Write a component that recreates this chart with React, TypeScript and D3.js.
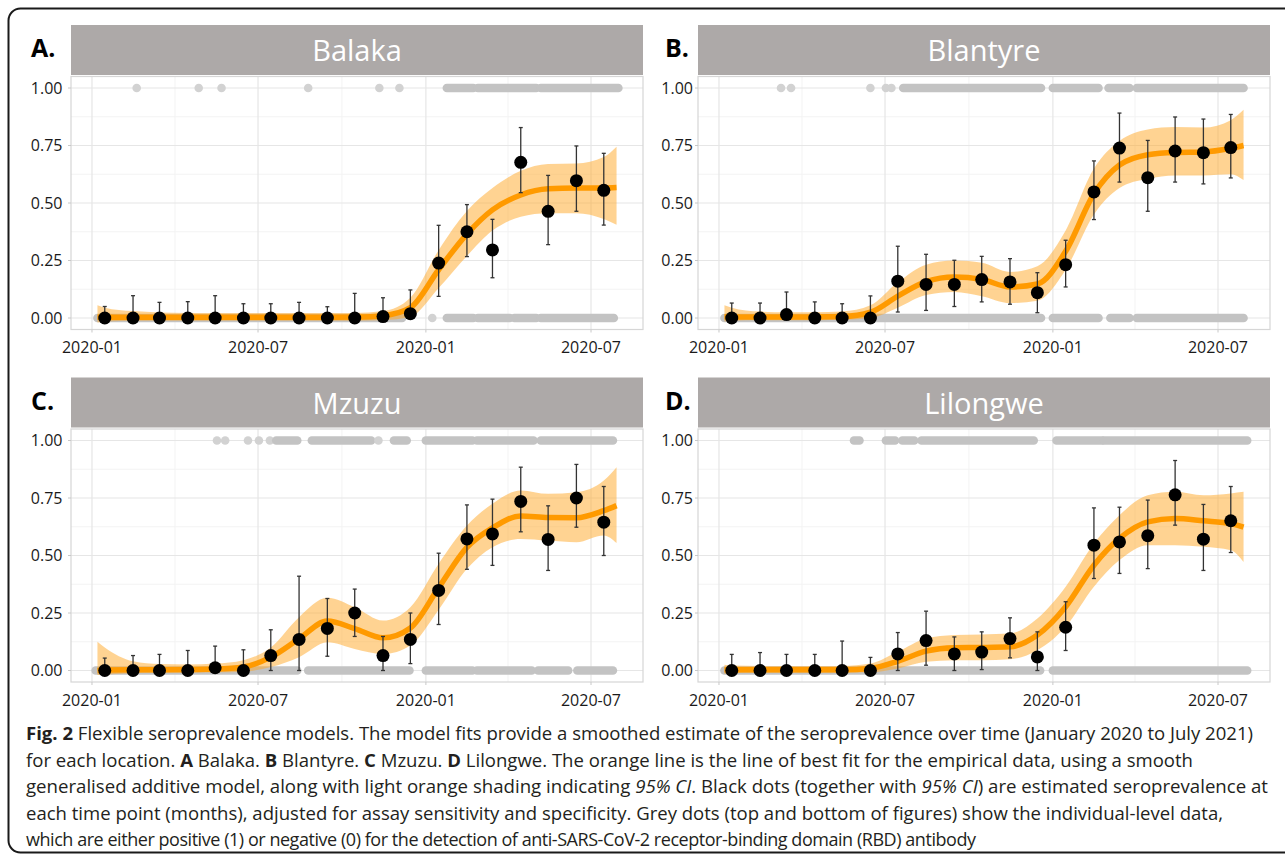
import React from 'react';
import * as d3 from 'd3';

// monthly survey points (mid-month), Jan 2020 - Jul 2021
const pointDates = [
  '2020-01-15', '2020-02-15', '2020-03-15', '2020-04-15', '2020-05-15', '2020-06-15',
  '2020-07-15', '2020-08-15', '2020-09-15', '2020-10-15', '2020-11-15', '2020-12-15',
  '2021-01-15', '2021-02-15', '2021-03-15', '2021-04-15', '2021-05-15', '2021-06-15', '2021-07-15',
];
// GAM fit is sampled at the first/last sample date plus every survey month
const fitDates = ['2020-01-07', ...pointDates, '2021-07-29'];

const xDomain = ['2019-12-09', '2021-08-27'];
const xBreaks = ['2020-01-01', '2020-07-01', '2021-01-01', '2021-07-01'];
const xTickLabels = ['2020-01', '2020-07', '2020-01', '2020-07'];
const xMinor = ['2020-04-01', '2020-10-01', '2021-04-01'];
const yBreaks = [0, 0.25, 0.5, 0.75, 1];
const yTickLabels = ['0.00', '0.25', '0.50', '0.75', '1.00'];
const yMinor = [0.125, 0.375, 0.625, 0.875];

const panelNames = ['Balaka', 'Blantyre', 'Mzuzu', 'Lilongwe'];
const panelTags = ['A.', 'B.', 'C.', 'D.'];

// ---- Balaka
const balakaEst = [0, 0, 0, 0, 0, 0, 0, 0, 0, 0, 0.006, 0.019, 0.239, 0.375, 0.296, 0.677, 0.464, 0.597, 0.555];
const balakaLo = [0, 0, 0, 0, 0, 0, 0, 0, 0, 0, 0, 0, 0.094, 0.267, 0.175, 0.545, 0.319, 0.464, 0.404];
const balakaHi = [0.05, 0.097, 0.068, 0.071, 0.097, 0.062, 0.062, 0.068, 0.049, 0.107, 0.088, 0.122, 0.403, 0.493, 0.429, 0.828, 0.62, 0.748, 0.716];
const balakaFit = [0.004, 0.003, 0.003, 0.003, 0.003, 0.003, 0.003, 0.003, 0.003, 0.003, 0.004, 0.01, 0.045, 0.21, 0.365, 0.47, 0.535, 0.562, 0.565, 0.565, 0.567];
const balakaFitLo = [-0.02, -0.015, -0.012, -0.012, -0.012, -0.012, -0.012, -0.012, -0.012, -0.012, -0.012, -0.01, 0.005, 0.13, 0.27, 0.38, 0.44, 0.455, 0.455, 0.43, 0.405];
const balakaFitHi = [0.055, 0.045, 0.03, 0.024, 0.022, 0.022, 0.022, 0.022, 0.022, 0.022, 0.022, 0.03, 0.088, 0.295, 0.465, 0.565, 0.64, 0.67, 0.672, 0.7, 0.745];
const balakaPos = [[49, 49], [117, 117], [142, 142], [237, 237], [315, 315], [337, 337], [389, 418], [423, 487], [492, 577]];
const balakaNeg = [[6, 340], [373, 373], [389, 418], [423, 458], [463, 487], [492, 572]];

// ---- Blantyre
const blantyreEst = [0, 0, 0.015, 0, 0, 0, 0.16, 0.146, 0.146, 0.167, 0.157, 0.11, 0.232, 0.548, 0.739, 0.61, 0.726, 0.719, 0.741];
const blantyreLo = [0, 0, 0, 0, 0, 0, 0.026, 0.033, 0.05, 0.07, 0.06, 0.023, 0.135, 0.428, 0.591, 0.464, 0.591, 0.583, 0.609];
const blantyreHi = [0.065, 0.065, 0.113, 0.07, 0.062, 0.096, 0.312, 0.277, 0.251, 0.268, 0.258, 0.197, 0.338, 0.683, 0.891, 0.772, 0.874, 0.865, 0.885];
const blantyreFit = [0.005, 0.004, 0.004, 0.004, 0.004, 0.006, 0.025, 0.095, 0.158, 0.178, 0.168, 0.135, 0.148, 0.29, 0.54, 0.665, 0.71, 0.72, 0.722, 0.738, 0.75];
const blantyreFitLo = [-0.015, -0.012, -0.01, -0.01, -0.01, -0.008, 0, 0.045, 0.1, 0.113, 0.095, 0.065, 0.075, 0.21, 0.45, 0.565, 0.605, 0.62, 0.62, 0.625, 0.6];
const blantyreFitHi = [0.055, 0.045, 0.028, 0.025, 0.025, 0.028, 0.055, 0.155, 0.232, 0.25, 0.24, 0.2, 0.225, 0.38, 0.65, 0.77, 0.82, 0.83, 0.828, 0.86, 0.905];
const blantyrePos = [[68, 68], [79, 79], [166, 166], [183, 183], [189, 189], [202, 353], [366, 416], [427, 450], [458, 575]];
const blantyreNeg = [[6, 353], [366, 416], [429, 450], [458, 575]];

// ---- Mzuzu
const mzuzuEst = [0, 0, 0, 0, 0.012, 0, 0.065, 0.135, 0.183, 0.25, 0.065, 0.135, 0.348, 0.572, 0.594, 0.735, 0.57, 0.75, 0.645];
const mzuzuLo = [0, 0, 0, 0, 0, 0, 0, 0, 0.062, 0.148, 0, 0.03, 0.2, 0.44, 0.457, 0.603, 0.435, 0.623, 0.5];
const mzuzuHi = [0.054, 0.065, 0.07, 0.087, 0.106, 0.09, 0.177, 0.41, 0.313, 0.354, 0.148, 0.25, 0.51, 0.72, 0.745, 0.884, 0.716, 0.896, 0.8];
const mzuzuFit = [0, 0.002, 0.003, 0.003, 0.004, 0.006, 0.015, 0.058, 0.138, 0.215, 0.182, 0.142, 0.185, 0.36, 0.535, 0.62, 0.672, 0.665, 0.664, 0.695, 0.717];
const mzuzuFitLo = [-0.02, -0.018, -0.012, -0.01, -0.01, -0.008, -0.005, 0.015, 0.058, 0.123, 0.094, 0.072, 0.109, 0.264, 0.442, 0.536, 0.572, 0.565, 0.558, 0.587, 0.554];
const mzuzuFitHi = [0.125, 0.1, 0.04, 0.028, 0.026, 0.03, 0.045, 0.1, 0.232, 0.316, 0.275, 0.217, 0.275, 0.464, 0.63, 0.725, 0.783, 0.768, 0.775, 0.826, 0.884];
const mzuzuPos = [[137, 137], [146, 146], [171, 171], [183, 183], [195, 195], [202, 225], [241, 306], [314, 314], [331, 345], [366, 417], [422, 484], [492, 571]];
const mzuzuNeg = [[4, 225], [237, 348], [366, 417], [422, 482], [489, 522], [532, 571]];

// ---- Lilongwe
const lilongweEst = [0, 0, 0, 0, 0, 0, 0.072, 0.13, 0.072, 0.08, 0.139, 0.059, 0.188, 0.545, 0.559, 0.586, 0.764, 0.571, 0.651];
const lilongweLo = [0, 0, 0, 0, 0, 0, 0, 0.023, 0, 0.004, 0.055, 0, 0.087, 0.4, 0.422, 0.443, 0.632, 0.435, 0.513];
const lilongweHi = [0.07, 0.078, 0.07, 0.07, 0.128, 0.057, 0.165, 0.258, 0.146, 0.168, 0.229, 0.168, 0.299, 0.707, 0.71, 0.741, 0.913, 0.722, 0.8];
const lilongweFit = [0.003, 0.003, 0.003, 0.003, 0.003, 0.003, 0.009, 0.04, 0.084, 0.099, 0.1, 0.103, 0.154, 0.277, 0.458, 0.574, 0.646, 0.661, 0.651, 0.639, 0.623];
const lilongweFitLo = [-0.015, -0.012, -0.01, -0.01, -0.01, -0.01, -0.008, 0.009, 0.038, 0.045, 0.045, 0.049, 0.088, 0.19, 0.364, 0.48, 0.545, 0.545, 0.538, 0.523, 0.472];
const lilongweFitHi = [0.025, 0.022, 0.02, 0.02, 0.02, 0.02, 0.03, 0.081, 0.139, 0.154, 0.157, 0.161, 0.226, 0.364, 0.552, 0.675, 0.762, 0.777, 0.762, 0.77, 0.777];
const lilongwePos = [[148, 154], [183, 193], [201, 214], [222, 345], [370, 420], [422, 579]];
const lilongweNeg = [[6, 352], [366, 579]];

const panels = [
  { est: balakaEst, lo: balakaLo, hi: balakaHi, fit: balakaFit, fitLo: balakaFitLo, fitHi: balakaFitHi, pos: balakaPos, neg: balakaNeg },
  { est: blantyreEst, lo: blantyreLo, hi: blantyreHi, fit: blantyreFit, fitLo: blantyreFitLo, fitHi: blantyreFitHi, pos: blantyrePos, neg: blantyreNeg },
  { est: mzuzuEst, lo: mzuzuLo, hi: mzuzuHi, fit: mzuzuFit, fitLo: mzuzuFitLo, fitHi: mzuzuFitHi, pos: mzuzuPos, neg: mzuzuNeg },
  { est: lilongweEst, lo: lilongweLo, hi: lilongweHi, fit: lilongweFit, fitLo: lilongweFitLo, fitHi: lilongweFitHi, pos: lilongwePos, neg: lilongweNeg },
];

const parse = d3.timeParse('%Y-%m-%d');
const day0 = parse('2020-01-01');
const dayDate = (d) => d3.timeDay.offset(day0, d);

const FONT = "'Open Sans', 'Noto Sans', sans-serif";
const colLeft = [71, 698];
const labelRight = [62.5, 693];
const tagX = [31, 665];
const rowTop = [25, 377.5];
const panelW = 572;

const Panel = ({ i }) => {
  const p = panels[i];
  const col = i % 2;
  const row = Math.floor(i / 2);
  const left = colLeft[col];
  const right = left + panelW;
  const stripTop = rowTop[row];
  const plotTop = stripTop + 51.5;
  const plotBottom = plotTop + 253;

  const x = d3.scaleTime().domain(xDomain.map(parse)).range([left, right]);
  const y = d3.scaleLinear().domain([-0.05, 1.05]).range([plotBottom, plotTop]);

  const fitRows = fitDates.map((d, k) => ({ date: parse(d), v: p.fit[k], lo: p.fitLo[k], hi: p.fitHi[k] }));
  const area = d3.area()
    .x((d) => x(d.date))
    .y0((d) => y(d.lo))
    .y1((d) => y(d.hi))
    .curve(d3.curveMonotoneX);
  const line = d3.line()
    .x((d) => x(d.date))
    .y((d) => y(d.v))
    .curve(d3.curveMonotoneX);

  const greyRuns = (runs, level, key) => runs.map((r, k) => (
    <line
      key={key + k}
      x1={x(dayDate(r[0]))}
      x2={x(dayDate(r[1]))}
      y1={y(level)}
      y2={y(level)}
      stroke={r[0] === r[1] ? '#d2d2d2' : '#c3c3c3'}
      strokeWidth={8.6}
      strokeLinecap="round"
    />
  ));

  return (
    <g>
      {/* strip */}
      <rect x={left} y={stripTop} width={panelW} height={50} fill="#ada9a8" />
      <text x={(left + right) / 2} y={stripTop + 36} textAnchor="middle" fill="#fff" fontFamily={FONT} fontSize={29}>
        {panelNames[i]}
      </text>
      <text x={tagX[col]} y={stripTop + 32} fill="#000" fontFamily={FONT} fontWeight="bold" fontSize={25}>
        {panelTags[i]}
      </text>

      {/* panel */}
      <rect x={left} y={plotTop} width={panelW} height={plotBottom - plotTop} fill="#fff" />
      {yMinor.map((v) => (
        <line key={'ym' + v} x1={left} x2={right} y1={y(v)} y2={y(v)} stroke="#f3f3f3" strokeWidth={1} />
      ))}
      {xMinor.map((d) => (
        <line key={'xm' + d} x1={x(parse(d))} x2={x(parse(d))} y1={plotTop} y2={plotBottom} stroke="#f3f3f3" strokeWidth={1} />
      ))}
      {yBreaks.map((v) => (
        <line key={'y' + v} x1={left} x2={right} y1={y(v)} y2={y(v)} stroke="#e6e6e6" strokeWidth={1.2} />
      ))}
      {xBreaks.map((d) => (
        <line key={'x' + d} x1={x(parse(d))} x2={x(parse(d))} y1={plotTop} y2={plotBottom} stroke="#e6e6e6" strokeWidth={1.2} />
      ))}
      <rect x={left} y={plotTop} width={panelW} height={plotBottom - plotTop} fill="none" stroke="#d6d6d6" strokeWidth={1.2} />

      {/* ticks + labels */}
      {yBreaks.map((v, k) => (
        <g key={'yt' + v}>
          <line x1={left - 3} x2={left} y1={y(v)} y2={y(v)} stroke="#c8c8c8" />
          <text x={labelRight[col]} y={y(v) + 5.7} textAnchor="end" fontFamily={FONT} fontSize={16} fill="#1a1a1a">
            {yTickLabels[k]}
          </text>
        </g>
      ))}
      {xBreaks.map((d, k) => (
        <g key={'xt' + d}>
          <line x1={x(parse(d))} x2={x(parse(d))} y1={plotBottom} y2={plotBottom + 3} stroke="#c8c8c8" />
          <text x={x(parse(d))} y={plotBottom + 23.5} textAnchor="middle" fontFamily={FONT} fontSize={16} fill="#1a1a1a">
            {xTickLabels[k]}
          </text>
        </g>
      ))}

      {/* individual-level data */}
      {greyRuns(p.pos, 1, 'p')}
      {greyRuns(p.neg, 0, 'n')}

      {/* GAM fit */}
      <path d={area(fitRows)} fill="#ffa726" fillOpacity={0.5} />
      <path d={line(fitRows)} fill="none" stroke="#ff9a00" strokeWidth={5.5} />

      {/* monthly estimates */}
      {pointDates.map((d, k) => {
        const cx = x(parse(d));
        return (
          <g key={'pt' + d}>
            <line x1={cx} x2={cx} y1={y(p.lo[k])} y2={y(p.hi[k])} stroke="#333" strokeWidth={1.3} />
            <line x1={cx - 2} x2={cx + 2} y1={y(p.hi[k])} y2={y(p.hi[k])} stroke="#333" strokeWidth={1.3} />
            <line x1={cx - 2} x2={cx + 2} y1={y(p.lo[k])} y2={y(p.lo[k])} stroke="#333" strokeWidth={1.3} />
            <circle cx={cx} cy={y(p.est[k])} r={6.5} fill="#000" />
          </g>
        );
      })}
    </g>
  );
};

const captionBaselines = [740, 766.5, 793, 819.5, 846];

const App = () => {
  return (
    <div style={{ position: 'absolute', left: 0, top: 0 }}>
      <svg width={1285} height={856} style={{ display: 'block', background: '#fff' }}>
        <rect x={8.5} y={8.5} width={1300} height={844} rx={12} fill="none" stroke="#1a1a1a" strokeWidth={2} />
        {panels.map((_, i) => <Panel key={i} i={i} />)}

        <g fontFamily={FONT} fontSize={18} fill="#231f20">
          <text x={26} y={captionBaselines[0]} textLength={1227} lengthAdjust="spacingAndGlyphs">
            <tspan fontWeight="bold">Fig. 2</tspan> Flexible seroprevalence models. The model fits provide a smoothed estimate of the seroprevalence over time (January 2020 to July 2021)
          </text>
          <text x={26} y={captionBaselines[1]} textLength={1167} lengthAdjust="spacingAndGlyphs">
            for each location. <tspan fontWeight="bold">A</tspan> Balaka. <tspan fontWeight="bold">B</tspan> Blantyre. <tspan fontWeight="bold">C</tspan> Mzuzu. <tspan fontWeight="bold">D</tspan> Lilongwe. The orange line is the line of best fit for the empirical data, using a smooth
          </text>
          <text x={26} y={captionBaselines[2]} textLength={1242} lengthAdjust="spacingAndGlyphs">
            generalised additive model, along with light orange shading indicating <tspan fontStyle="italic">95% CI</tspan>. Black dots (together with <tspan fontStyle="italic">95% CI</tspan>) are estimated seroprevalence at
          </text>
          <text x={26} y={captionBaselines[3]} textLength={1197} lengthAdjust="spacingAndGlyphs">
            each time point (months), adjusted for assay sensitivity and specificity. Grey dots (top and bottom of figures) show the individual-level data,
          </text>
          <text x={26} y={captionBaselines[4]} textLength={950} lengthAdjust="spacing">
            which are either positive (1) or negative (0) for the detection of anti-SARS-CoV-2 receptor-binding domain (RBD) antibody
          </text>
        </g>
      </svg>
    </div>
  );
};

export default App;
